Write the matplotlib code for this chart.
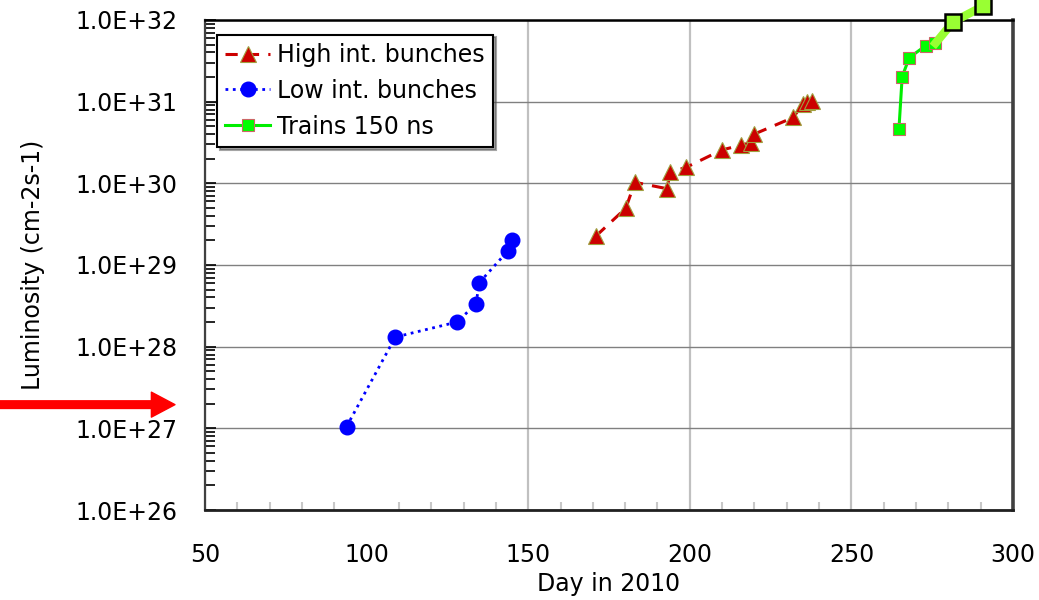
import numpy as np
import matplotlib.pyplot as plt
from matplotlib.ticker import FuncFormatter, LogLocator, MultipleLocator

# luminosity records, day of year 2010
low_day = [93.8, 108.9, 127.9, 133.8, 134.9, 143.8, 144.9]
low_lumi = [1.05e27, 1.31e28, 2.0e28, 3.3e28, 6.1e28, 1.5e29, 2.03e29]

high_day = [171.0, 180.2, 183.0, 192.9, 194.0, 198.9, 209.9, 215.8,
            218.9, 219.9, 232.0, 235.0, 236.3, 237.8]
high_lumi = [2.27e29, 4.96e29, 1.03e30, 8.6e29, 1.37e30, 1.57e30, 2.56e30,
             2.93e30, 3.15e30, 4.0e30, 6.4e30, 9.4e30, 1.0e31, 1.03e31]

train_day = [264.7, 265.7, 267.9, 273.0, 276.0]
train_lumi = [4.6e30, 2.02e31, 3.46e31, 4.85e31, 5.2e31]

# later fills, drawn above the frame
late_day = [276.0, 281.5, 290.8]
late_lumi = [5.2e31, 9.5e31, 1.48e32]

fig = plt.figure(figsize=(10.39, 6.0), dpi=100)
ax = fig.add_axes([0.1973, 0.15, 0.7777, 0.8167])

ax.set_yscale('log')
ax.set_xlim(50, 300)
ax.set_ylim(1e26, 1e32)

ax.plot(high_day, high_lumi, ls=(0, (4, 3)), lw=2.2, color='#cc0000',
        marker='^', ms=12, mfc='#cc0000', mec='#a0a040', mew=0.8,
        label='High int. bunches', zorder=4)
ax.plot(low_day, low_lumi, ls=':', lw=2.0, color='#0000ff',
        marker='o', ms=10.5, mfc='#0000ff', mec='#0000ff',
        label='Low int. bunches', zorder=4)
ax.plot(train_day, train_lumi, ls='-', lw=2.2, color='#00ee00',
        marker='s', ms=8.5, mfc='#00ff00', mec='#cc6666', mew=0.8,
        label='Trains 150 ns', zorder=5)
ax.plot(late_day, late_lumi, ls='-', lw=6, color='#99ff33', zorder=5,
        clip_on=False)
ax.plot(late_day[1:], late_lumi[1:], ls='none', marker='s', ms=12,
        mfc='#99ff33', mec='black', mew=1.8, zorder=6, clip_on=False)

# grid: decades across, light vertical lines at 150/200/250
ax.grid(True, axis='y', which='major', color='#808080', lw=1.0)
ax.grid(True, axis='x', which='major', color='#c0c0c0', lw=1.6)
ax.set_axisbelow(True)
ax.xaxis.set_major_locator(MultipleLocator(50))
ax.xaxis.set_minor_locator(MultipleLocator(10))
for gl, v in zip(ax.xaxis.get_gridlines(), ax.get_xticks()):
    if v == 100:
        gl.set_visible(False)

ax.yaxis.set_major_locator(LogLocator(base=10, numticks=10))
ax.yaxis.set_minor_locator(LogLocator(base=10, subs=np.arange(2, 10), numticks=20))
ax.yaxis.set_major_formatter(FuncFormatter(lambda v, p: f'{v:.1E}'))

ax.tick_params(axis='y', which='major', direction='in', length=8, width=1.2,
               labelsize=17, pad=20, color='black')
ax.tick_params(axis='y', which='minor', direction='in', length=7, width=1.2,
               color='black')
ax.tick_params(axis='x', which='major', direction='in', length=0,
               labelsize=17, pad=24)
ax.tick_params(axis='x', which='minor', direction='in', length=6, width=1.5,
               color='#c8c8c8')

ax.spines['left'].set_color('#404040')
ax.spines['left'].set_linewidth(1.6)
ax.spines['bottom'].set_color('#202020')
ax.spines['bottom'].set_linewidth(2.0)
ax.spines['top'].set_color('black')
ax.spines['top'].set_linewidth(1.8)
ax.spines['right'].set_color('#404040')
ax.spines['right'].set_linewidth(2.6)

ax.set_xlabel('Day in 2010', fontsize=17, labelpad=3)
ax.set_ylabel('Luminosity (cm-2s-1)', fontsize=17, labelpad=22)

leg = ax.legend(loc='upper left', bbox_to_anchor=(0.015, 0.97), fontsize=17,
                frameon=True, fancybox=False, shadow=True, handlelength=1.9,
                handletextpad=0.3, borderpad=0.35, labelspacing=0.5,
                borderaxespad=0.0)
leg.get_frame().set_edgecolor('black')
leg.get_frame().set_linewidth(1.5)
leg.get_frame().set_alpha(1.0)

# red pointer on the left margin
ax.annotate('', xy=(175 / 1039, 1.95e27), xycoords=('figure fraction', 'data'),
            xytext=(0.0, 1.95e27), textcoords=('figure fraction', 'data'),
            arrowprops=dict(facecolor='red', edgecolor='red', width=5.5,
                            headwidth=18, headlength=17, shrink=0),
            annotation_clip=False)

fig.savefig('out.png', dpi=100)
